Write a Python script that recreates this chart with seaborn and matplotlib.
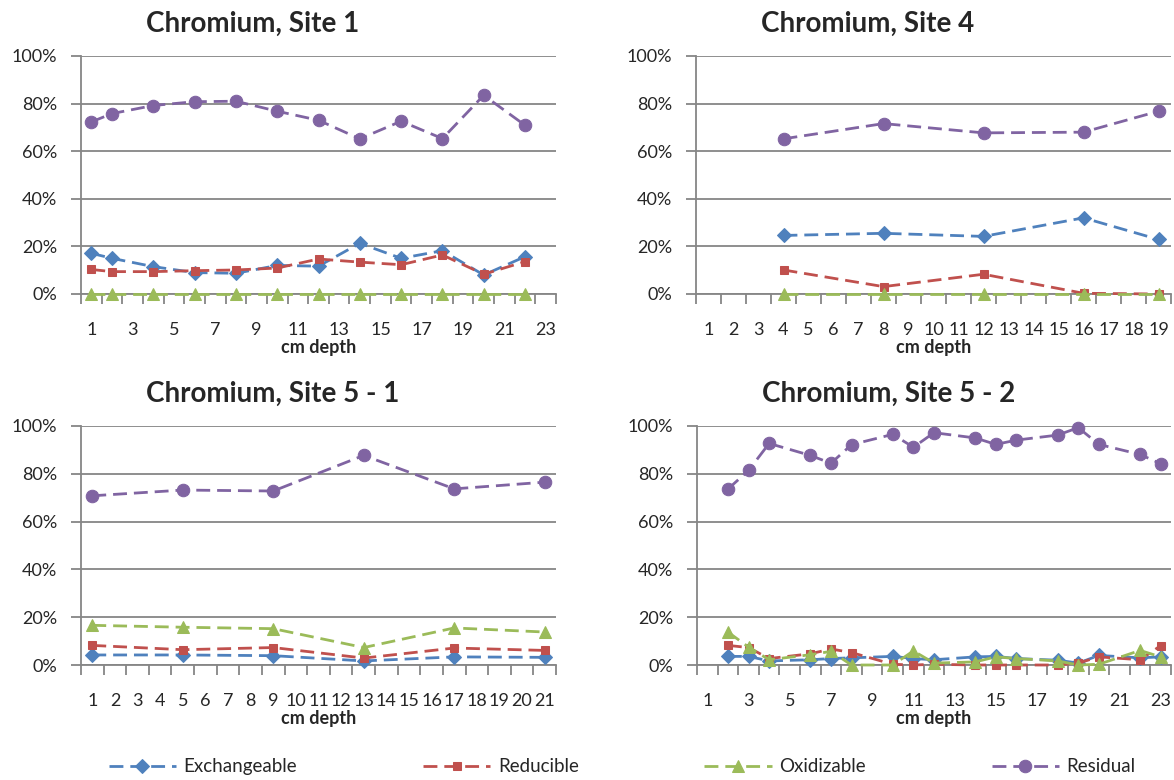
import numpy as np
import pandas as pd
import seaborn as sns
from matplotlib import pyplot as plt
from matplotlib.ticker import FixedLocator

# data (percent of total chromium)
fractions = ["Exchangeable", "Reducible", "Oxidizable", "Residual"]
titles = ["Chromium, Site 1", "Chromium, Site 4", "Chromium, Site 5 - 1", "Chromium, Site 5 - 2"]
n_categories = [23, 19, 21, 23]
label_step = [2, 1, 1, 2]

depth_s1 = [1, 2, 4, 6, 8, 10, 12, 14, 16, 18, 20, 22]
exch_s1 = [17.1, 15.0, 11.5, 9.0, 8.7, 12.0, 11.7, 21.3, 15.0, 18.2, 8.0, 15.7]
red_s1 = [10.3, 9.4, 9.4, 9.8, 10.1, 10.9, 14.7, 13.4, 12.3, 16.4, 8.3, 13.6]
oxi_s1 = [0, 0, 0, 0, 0, 0, 0, 0, 0, 0, 0, 0]
res_s1 = [72.3, 75.8, 79.2, 80.8, 81.0, 76.8, 73.0, 65.2, 72.6, 65.3, 83.5, 70.9]

depth_s4 = [4, 8, 12, 16, 19]
exch_s4 = [24.6, 25.5, 24.2, 32.0, 22.9]
red_s4 = [10.1, 3.1, 8.3, 0.3, 0.0]
oxi_s4 = [0, 0, 0, 0, 0]
res_s4 = [65.2, 71.6, 67.7, 68.0, 76.8]

depth_s51 = [1, 5, 9, 13, 17, 21]
exch_s51 = [4.2, 4.2, 3.9, 1.7, 3.4, 3.2]
red_s51 = [8.2, 6.4, 7.3, 2.9, 7.1, 6.1]
oxi_s51 = [16.6, 15.8, 15.2, 7.3, 15.5, 13.8]
res_s51 = [70.8, 73.2, 72.8, 87.7, 73.7, 76.5]

depth_s52 = [2, 3, 4, 6, 7, 8, 10, 11, 12, 14, 15, 16, 18, 19, 20, 22, 23]
exch_s52 = [3.6, 3.6, 1.7, 2.2, 2.7, 3.0, 3.6, 2.7, 2.2, 3.4, 3.6, 2.7, 2.0, 0.8, 4.0, 3.0, 3.4]
red_s52 = [8.2, 7.3, 2.7, 4.7, 6.7, 5.2, 0.3, 0.0, 0.3, 0.0, 0.0, 0.0, 0.0, 0.8, 3.4, 2.2, 8.1]
oxi_s52 = [13.8, 7.5, 2.2, 4.3, 5.7, 0.0, 0.0, 5.9, 0.8, 1.3, 3.4, 2.7, 1.7, 0.0, 0.3, 6.1, 3.4]
res_s52 = [73.6, 81.4, 92.7, 87.7, 84.4, 92.2, 96.5, 91.1, 97.2, 95.0, 92.3, 94.1, 96.2, 99.3, 92.3, 88.1, 84.2]

sites = [
    (depth_s1, [exch_s1, red_s1, oxi_s1, res_s1]),
    (depth_s4, [exch_s4, red_s4, oxi_s4, res_s4]),
    (depth_s51, [exch_s51, red_s51, oxi_s51, res_s51]),
    (depth_s52, [exch_s52, red_s52, oxi_s52, res_s52]),
]

colors = ["#4F81BD", "#C0504D", "#9BBB59", "#8064A2"]
markers = ["D", "s", "^", "o"]
msizes = [7, 6, 8, 9]
grid_gray = "#868686"

sns.set_style("white")
plt.rcParams["font.family"] = ["Lato", "DejaVu Sans"]

fig = plt.figure(figsize=(11.74, 7.8), dpi=100)
W, H = 1174, 780
# axes boxes in pixels: left, right, top, bottom
boxes = [(81, 556, 56, 294), (696, 1171, 56, 294), (81, 556, 426, 665), (697, 1171, 426, 665)]

for i, (l, r, t, b) in enumerate(boxes):
    ax = fig.add_axes([l / W, (H - b) / H, (r - l) / W, (b - t) / H])
    depth, series = sites[i]
    df = pd.DataFrame({"depth": depth})
    for name, vals, c, m, ms in zip(fractions, series, colors, markers, msizes):
        df[name] = vals
        sns.lineplot(data=df, x="depth", y=name, ax=ax, color=c, marker=m, markersize=ms,
                     markeredgecolor=c, linewidth=2.0, linestyle=(0, (5, 2.5)),
                     label=name, legend=False, clip_on=False, zorder=3)
    n = n_categories[i]
    ax.set_xlim(0.5, n + 0.5)
    ax.set_ylim(0, 100)
    ax.set_yticks(np.arange(0, 101, 20))
    ax.set_yticklabels([f"{v}%" for v in range(0, 101, 20)], fontsize=13)
    ax.yaxis.grid(True, color=grid_gray, linewidth=1.3)
    ax.set_axisbelow(True)
    ax.tick_params(axis="y", direction="out", length=7, width=1.3, color=grid_gray, pad=10, left=True)
    # category axis: tick marks on boundaries, labels in centres
    ax.xaxis.set_major_locator(FixedLocator(np.arange(0.5, n + 1)))
    ax.set_xticklabels([])
    centres = np.arange(1, n + 1, label_step[i])
    ax.set_xticks(centres, minor=True)
    ax.set_xticklabels([str(c) for c in centres], minor=True, fontsize=13)
    ax.tick_params(axis="x", which="major", direction="out", length=7, width=1.3,
                   color=grid_gray, bottom=True)
    ax.tick_params(axis="x", which="minor", length=0, pad=20)
    for s in ["top", "right"]:
        ax.spines[s].set_visible(False)
    for s in ["left", "bottom"]:
        ax.spines[s].set_color(grid_gray)
        ax.spines[s].set_linewidth(1.3)
    ax.set_xlabel("cm depth", fontsize=13, fontweight="bold", labelpad=1)
    ax.set_ylabel("")
    ax.text(0.137, 1.10, titles[i], transform=ax.transAxes, ha="left", va="baseline",
            fontsize=20, fontweight="bold")

handles, labels = fig.axes[0].get_legend_handles_labels()
fig.legend(handles, labels, loc="center", bbox_to_anchor=(0.53, 0.017), ncol=4, frameon=False,
           fontsize=13.5, handlelength=3.6, handletextpad=0.4, columnspacing=6.7)

fig.savefig("out.png", dpi=100)
